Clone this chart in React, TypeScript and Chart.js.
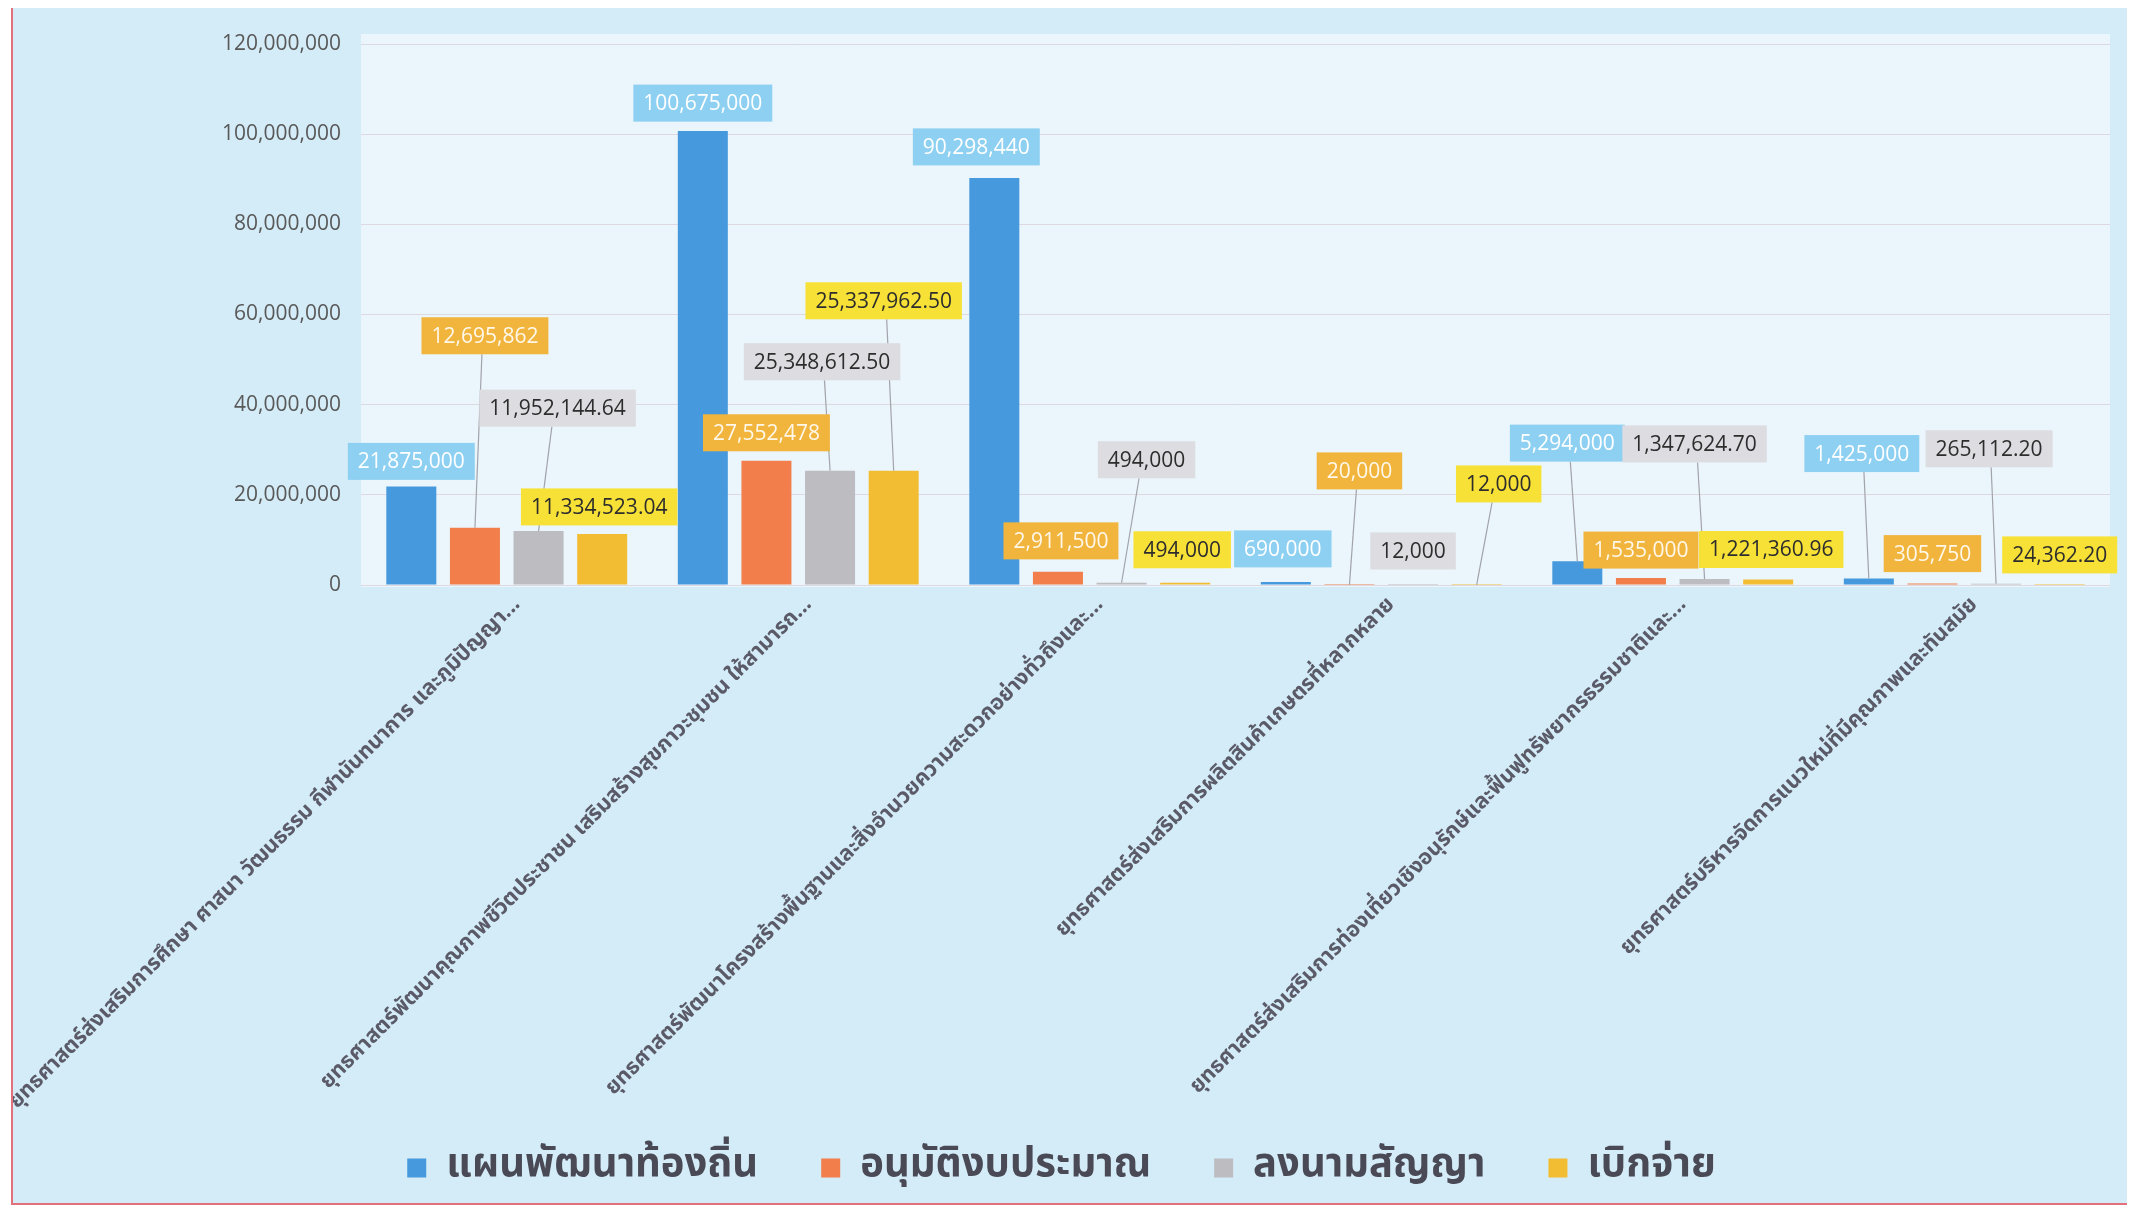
import React, { useEffect, useRef } from "react";
import { Chart, registerables } from "chart.js";

Chart.register(...registerables);

const categories = [
  "ยุทธศาสตร์ส่งเสริมการศึกษา ศาสนา วัฒนธรรม กีฬานันทนาการ และภูมิปัญญา...",
  "ยุทธศาสตร์พัฒนาคุณภาพชีวิตประชาชน เสริมสร้างสุขภาวะชุมชน ให้สามารถ...",
  "ยุทธศาสตร์พัฒนาโครงสร้างพื้นฐานและสิ่งอำนวยความสะดวกอย่างทั่วถึงและ...",
  "ยุทธศาสตร์ส่งเสริมการผลิตสินค้าเกษตรที่หลากหลาย",
  "ยุทธศาสตร์ส่งเสริมการท่องเที่ยวเชิงอนุรักษ์และฟื้นฟูทรัพยากรธรรมชาติและ...",
  "ยุทธศาสตร์บริหารจัดการแนวใหม่ที่มีคุณภาพและทันสมัย",
];

const seriesNames = ["แผนพัฒนาท้องถิ่น", "อนุมัติงบประมาณ", "ลงนามสัญญา", "เบิกจ่าย"];

const planValues = [21875000, 100675000, 90298440, 690000, 5294000, 1425000];
const approvedValues = [12695862, 27552478, 2911500, 20000, 1535000, 305750];
const contractValues = [11952144.64, 25348612.5, 494000, 12000, 1347624.7, 265112.2];
const disbursedValues = [11334523.04, 25337962.5, 494000, 12000, 1221360.96, 24362.2];

const yMin = 0;
const yMax = 120000000;
const yStep = 20000000;

// styling
const barColors = ["#4699dc", "#f27f4b", "#bcbcc1", "#f3bd33"];
const labelBg = ["#8ed0f2", "#f1b43c", "#dcdce1", "#f7e136"];
const labelFg = ["#ffffff", "#fff8ea", "#2d2d2d", "#2d2d2d"];
// label box centre offsets (px) from each bar's top-centre: [series][category]
const labelOffsets = [
  [[0, -25], [0, -28], [-18, -31], [-3, -33], [-10, -118], [-7, -125]],
  [[10, -192], [0, -28], [3, -31], [10, -114], [0, -28], [0, -30]],
  [[19, -123], [-8, -109], [25, -123], [0, -34], [-10, -135], [-7, -135]],
  [[-3, -27], [-10, -170], [-3, -33], [22, -101], [3, -30], [0, -30]],
];

const thaiFont = "'Noto Sans Thai', 'Noto Sans', 'DejaVu Sans', sans-serif";
const numFont = "'Open Sans', 'Liberation Sans', sans-serif";

function fmt(v: number): string {
  const isInt = Math.abs(v - Math.round(v)) < 1e-9;
  return v.toLocaleString("en-US", {
    minimumFractionDigits: isInt ? 0 : 2,
    maximumFractionDigits: isInt ? 0 : 2,
  });
}

const plotBgPlugin = {
  id: "plotBg",
  beforeDraw(chart: any) {
    const { ctx, chartArea } = chart;
    ctx.save();
    ctx.fillStyle = "#eaf6fc";
    ctx.fillRect(chartArea.left, chartArea.top - 10, chartArea.right - chartArea.left, chartArea.bottom - chartArea.top + 12);
    ctx.restore();
  },
};

const labelPlugin = {
  id: "boxLabels",
  afterDatasetsDraw(chart: any) {
    const { ctx } = chart;
    ctx.save();
    ctx.font = `21px ${numFont}`;
    ctx.textAlign = "center";
    ctx.textBaseline = "middle";
    const boxH = 37;
    const padX = 10;
    chart.data.datasets.forEach((ds: any, si: number) => {
      const meta = chart.getDatasetMeta(si);
      meta.data.forEach((bar: any, ci: number) => {
        const [dx, dy] = labelOffsets[si][ci];
        if (Math.abs(dy) > 50) {
          const cx = bar.x + dx;
          const cy = bar.y + dy;
          ctx.strokeStyle = "#a3a3aa";
          ctx.lineWidth = 1.2;
          ctx.beginPath();
          ctx.moveTo(cx - dx * 0.3, cy + boxH / 2);
          ctx.lineTo(bar.x, bar.y);
          ctx.stroke();
        }
      });
    });
    chart.data.datasets.forEach((ds: any, si: number) => {
      const meta = chart.getDatasetMeta(si);
      meta.data.forEach((bar: any, ci: number) => {
        const text = fmt(ds.data[ci]);
        const [dx, dy] = labelOffsets[si][ci];
        const cx = bar.x + dx;
        const cy = bar.y + dy;
        const w = ctx.measureText(text).width + padX * 2;
        ctx.fillStyle = labelBg[si];
        ctx.fillRect(cx - w / 2, cy - boxH / 2, w, boxH);
        ctx.fillStyle = labelFg[si];
        ctx.fillText(text, cx, cy + 1);
      });
    });
    ctx.restore();
  },
};

export default function App() {
  const ref = useRef<HTMLCanvasElement | null>(null);

  useEffect(() => {
    if (!ref.current) return;
    const values = [planValues, approvedValues, contractValues, disbursedValues];
    const chart = new Chart(ref.current, {
      type: "bar",
      data: {
        labels: categories,
        datasets: values.map((vals, i) => ({
          label: seriesNames[i],
          data: vals,
          backgroundColor: barColors[i],
          borderWidth: 0,
          categoryPercentage: 0.873,
          barPercentage: 0.786,
        })),
      },
      options: {
        animation: false,
        responsive: false,
        maintainAspectRatio: false,
        layout: { padding: { top: 37, right: 23, bottom: 5, left: 0 } },
        plugins: {
          tooltip: { enabled: false },
          legend: {
            display: true,
            position: "bottom",
            labels: {
              boxWidth: 19,
              boxHeight: 19,
              padding: 63,
              color: "#4a4a56",
              font: { family: thaiFont, size: 40, weight: "bold" },
            },
          },
        },
        scales: {
          x: {
            grid: { display: false },
            border: { display: false },
            ticks: {
              autoSkip: false,
              minRotation: 45,
              maxRotation: 45,
              padding: 0,
              labelOffset: 11,
              color: "#5a5a68",
              font: { family: thaiFont, size: 21.5, weight: "bold" },
            },
            afterFit(scale: any) {
              scale.height = 500;
              scale.paddingLeft = 0;
              scale.paddingRight = 0;
              // let the long rotated labels run past the axis box, as in the original
              scale._computeLabelArea = () => undefined;
            },
          },
          y: {
            min: yMin,
            max: yMax,
            ticks: {
              stepSize: yStep,
              padding: 20,
              color: "#595959",
              font: { family: numFont, size: 21 },
              callback: (v: any) => Number(v).toLocaleString("en-US"),
            },
            grid: { color: "rgba(214,196,206,0.6)", drawTicks: false },
            border: { display: false },
            afterFit(scale: any) {
              scale.width = 348;
            },
          },
        },
      },
      plugins: [plotBgPlugin, labelPlugin],
    });
    return () => chart.destroy();
  }, []);

  return (
    <div
      style={{
        position: "relative",
        width: 2124,
        height: 1200,
        marginLeft: 3,
        marginTop: -3,
        border: "2px solid #e3707d",
        boxSizing: "border-box",
        background: "#d4ecf7",
        overflow: "hidden",
      }}
    >
      <canvas ref={ref} width={2120} height={1196} style={{ display: "block", width: 2120, height: 1196 }} />
    </div>
  );
}
